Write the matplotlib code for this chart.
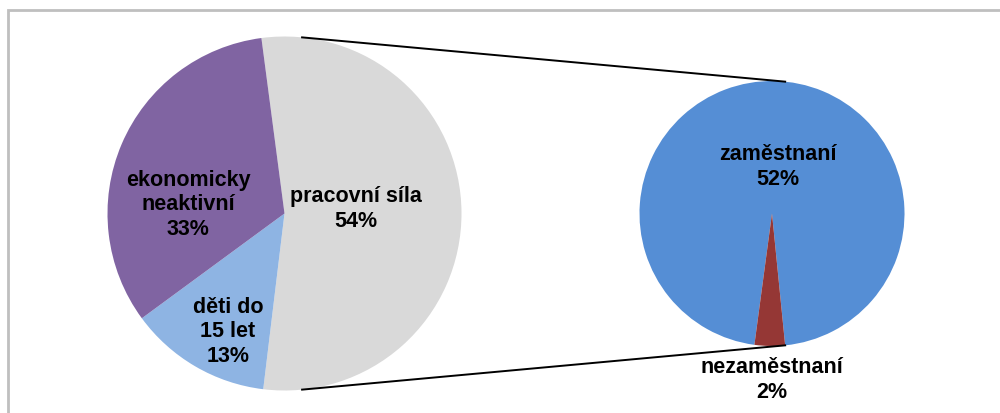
import numpy as np
import matplotlib
matplotlib.use("Agg")
import matplotlib.pyplot as plt

plt.rcParams['font.family'] = ['Liberation Sans', 'DejaVu Sans']

# hlavni kolac
labels_main = ["pracovní síla", "děti do\n15 let", "ekonomicky\nneaktivní"]
values_main = [54, 13, 33]
colors_main = ["#D9D9D9", "#8EB4E3", "#8064A2"]

# rozpad pracovni sily
labels_sub = ["zaměstnaní", "nezaměstnaní"]
values_sub = [52, 2]
colors_sub = ["#558ED5", "#953735"]

W, H = 1000, 414
fig = plt.figure(figsize=(W / 100, H / 100), dpi=100)
ax = fig.add_axes([0, 0, 1, 1])

c1, r1 = (284.5, 199.5), 177
c2, r2 = (772, 199.5), 132.5

ax.pie(values_main, colors=colors_main, startangle=97.5, counterclock=False,
       center=c1, radius=r1, frame=True,
       wedgeprops=dict(linewidth=0))
# red slice ends at the connector angle
conn = 84.3
ax.pie(values_sub, colors=colors_sub, startangle=-conn, counterclock=True,
       center=c2, radius=r2, frame=True,
       wedgeprops=dict(linewidth=0))
ax.set_xlim(0, W)
ax.set_ylim(0, H)
ax.set_aspect('equal')
ax.axis('off')

# spojovaci cary
for a in (conn, -conn):
    t = np.deg2rad(a)
    ax.plot([c1[0] + r1 * np.cos(t), c2[0] + r2 * np.cos(t)],
            [c1[1] + r1 * np.sin(t), c2[1] + r2 * np.sin(t)],
            color="black", lw=1.4, zorder=5)

fs = 15.5
txt = dict(ha='center', va='center', fontsize=fs, fontweight='bold',
           linespacing=1.2, color='black', zorder=6)
main_pos = [(356, 205), (228, 82), (188, 209)]
for lab, v, p in zip(labels_main, values_main, main_pos):
    ax.text(p[0], p[1], f"{lab}\n{v}%", **txt)
sub_pos = [(778, 247), (772, 34)]
for lab, v, p in zip(labels_sub, values_sub, sub_pos):
    ax.text(p[0], p[1], f"{lab}\n{v}%", **txt)

# ramecek grafu
ax.plot([8, 8, W], [0, H - 11, H - 11], color="#BFBFBF", lw=2,
        solid_joinstyle='miter', zorder=1)

fig.savefig("out.png", dpi=100)
